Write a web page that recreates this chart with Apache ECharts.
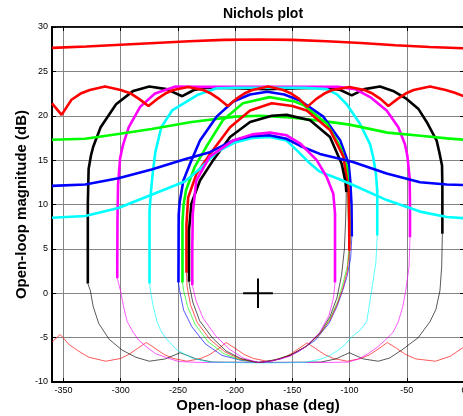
<!DOCTYPE html>
<html><head><meta charset="utf-8">
<script src="https://cdn.jsdelivr.net/npm/echarts@6/dist/echarts.min.js"></script>
<style>html,body{margin:0;padding:0;background:#fff}#c{width:463px;height:416px}</style>
</head><body><div id="c"></div>
<script>
// ---- tick labels ----
const xTicks = [-350,-300,-250,-200,-150,-100,-50,0];
const yTicks = [-10,-5,0,5,10,15,20,25,30];

// ---- wide (open) bounds ----
const redTop = [[-360,27.65],[-330,27.8],[-300,28.0],[-270,28.2],[-240,28.4],[-210,28.55],[-180,28.6],[-150,28.55],[-120,28.4],[-90,28.2],[-60,27.95],[-30,27.75],[0,27.6]];
const redScallop = [[-360,21.4],[-351.6,20.1],[-343,21.8],[-335,22.5],[-327,22.9],[-313.6,23.3],[-300,22.9],[-291,22.5],[-284,21.9],[-275.7,21.1],[-268,21.9],[-261,22.5],[-254,22.9],[-241,23.25],[-228,22.9],[-221,22.5],[-214,21.9],[-206.5,21.1],[-199,21.9],[-192,22.5],[-185,22.9],[-171,23.3],[-158,22.9],[-151,22.5],[-144,21.9],[-137,21.0],[-129,21.9],[-122,22.5],[-115,22.9],[-100,23.25],[-87,22.9],[-80,22.5],[-73,21.9],[-66.1,21.1],[-58,21.9],[-51,22.5],[-44,22.9],[-29.7,23.3],[-16,22.9],[-8,22.6],[0,22.2]];
const redBottom = [[-360,-5.5],[-352.8,-4.65],[-345,-5.8],[-337,-6.5],[-328,-7.2],[-313,-7.66],[-300,-7.35],[-293,-6.9],[-285,-6.2],[-277.6,-5.55],[-270,-6.2],[-262,-6.9],[-254,-7.35],[-242,-7.66],[-230,-7.35],[-222,-6.9],[-214,-6.2],[-207.9,-5.55],[-200,-6.2],[-192,-6.9],[-184,-7.35],[-172,-7.66],[-160,-7.35],[-152,-6.9],[-144,-6.2],[-137,-5.6],[-130,-6.2],[-122,-6.9],[-114,-7.35],[-102,-7.66],[-90,-7.35],[-82,-6.9],[-74,-6.2],[-67,-5.55],[-59,-6.2],[-51,-6.9],[-42,-7.4],[-25,-7.66],[-12,-7.1],[0,-6.05]];
const greenWide = [[-360,17.3],[-331,17.4],[-302,17.95],[-273,18.5],[-238,19.3],[-200,19.9],[-178,20.0],[-156,19.85],[-126,19.45],[-100,19.0],[-67,18.1],[-38,17.75],[-15,17.45],[0,17.3]];
const blueWide = [[-360,12.1],[-331,12.25],[-302,12.95],[-273,13.95],[-244,15.1],[-222,15.9],[-202,17.2],[-186,17.7],[-170,17.8],[-155,17.4],[-143,16.6],[-126,15.7],[-97,14.8],[-67.6,13.5],[-38.4,12.5],[-15,12.25],[0,12.2]];
const cyanWide = [[-360,8.5],[-331,8.7],[-302,9.6],[-273,11.1],[-244,12.6],[-231,14.0],[-216,15.9],[-200,17.0],[-185,17.5],[-170,17.6],[-155,17.2],[-146,16.1],[-136,14.8],[-126,13.7],[-110,12.9],[-97,12.2],[-67.5,10.5],[-38.4,9.2],[-15,8.6],[0,8.45]];

// ---- outer loops: upper (thick) and lower (thin) parts ----
const blackOuterUp = [[-328.7,1.1],[-328.7,10],[-328,14],[-326,15.5],[-324,16.5],[-317.5,18.7],[-304,21.3],[-289,22.8],[-275,23.3],[-260,23.0],[-246.2,22.2],[-236,22.9],[-224,23.15],[-200,23.1],[-172,23.0],[-145,23.1],[-122,23.15],[-108,22.9],[-98.1,22.3],[-87,23.0],[-73.4,23.3],[-62,22.8],[-50.1,21.9],[-40,20.8],[-32.6,19.3],[-23.9,17.2],[-21.6,15.9],[-19.2,14.4],[-18.9,12],[-18.9,6.7]];
const blackOuterLow = [[-18.9,6.7],[-19.5,3],[-21,0.3],[-24.5,-1.8],[-29.7,-3.2],[-40,-5.0],[-54.4,-6.4],[-65,-7.3],[-74.9,-7.66],[-88,-7.4],[-100.2,-6.7],[-112,-7.4],[-125,-7.75],[-174,-7.8],[-220,-7.75],[-234,-7.4],[-248,-6.7],[-261,-7.4],[-275,-7.66],[-287,-7.2],[-298.8,-6.4],[-310,-5.2],[-319.2,-3.4],[-324,-1.5],[-326.5,0.3],[-328.7,1.1]];
const magentaOuterUp = [[-303,1.7],[-302.8,8],[-302.3,12.2],[-300.5,15.2],[-298,16.7],[-293,18.7],[-283,21.0],[-270,22.5],[-252,23.3],[-230,23.25],[-200,23.25],[-174,23.25],[-140,23.25],[-110,23.25],[-95,23.0],[-82,22.1],[-67.6,20.6],[-57.4,18.7],[-51.6,16.8],[-49.5,15.5],[-47.5,13],[-47.2,10],[-47.2,6.3]];
const magentaOuterLow = [[-47.2,6.3],[-48,3],[-50.9,0.3],[-53.5,-1.5],[-57.4,-3.2],[-62,-4.4],[-69,-5.3],[-76,-6.1],[-83.6,-6.8],[-92,-7.4],[-101,-7.75],[-120,-7.8],[-174,-7.8],[-230,-7.8],[-249,-7.7],[-259,-7.3],[-269.6,-6.8],[-277,-6.1],[-284.1,-5.3],[-289,-4.4],[-294.3,-3.2],[-297.5,-1.5],[-300.2,0.3],[-303,1.7]];
const cyanOuterUp = [[-274.8,1.1],[-274.8,9.2],[-273.5,11.5],[-272,13.5],[-269.7,15.9],[-264.5,18.7],[-255,20.6],[-243.5,21.5],[-232,22.4],[-216,23.1],[-200,23.15],[-174,23.15],[-140,23.15],[-120,23.0],[-111,22.4],[-102.5,21.3],[-90.9,19.1],[-82.1,16.8],[-79.3,15.3],[-77,13.5],[-75.8,11.5],[-75.8,6.5]];
const cyanOuterLow = [[-75.8,6.5],[-77,3.5],[-80.7,0.3],[-83,-1.6],[-85,-3.2],[-91,-4.2],[-98.1,-4.9],[-104,-5.8],[-109.8,-6.4],[-117,-7.0],[-124.3,-7.4],[-139,-7.8],[-174,-7.85],[-210,-7.8],[-223,-7.75],[-237.6,-7.3],[-250.7,-6.4],[-256,-5.7],[-260.9,-5.0],[-265,-4.2],[-268.2,-3.2],[-271.5,-1.5],[-274,0.3],[-274.8,1.1]];

// ---- inner loops ----
const blueInnerUp = [[-249.5,1.2],[-249.3,8.8],[-248.5,10.2],[-245.2,12.7],[-239.4,14.6],[-230.7,17.2],[-216.2,19.9],[-201.6,21.6],[-187,22.4],[-172,22.7],[-157,22.4],[-143.3,21.7],[-122.9,19.9],[-108.1,17.2],[-100.8,14.6],[-99.4,12.7],[-98.3,10],[-98.0,6.4]];
const blueInnerLow = [[-98,6.4],[-99,4],[-102,2],[-106,0.3],[-111,-1.5],[-118,-3.4],[-130,-5.3],[-145,-6.6],[-160,-7.4],[-178,-7.8],[-195,-7.55],[-211.5,-7.0],[-226,-5.7],[-237.7,-3.8],[-245,-1.9],[-248.5,0.3],[-249.5,1.2]];
const greenInnerUp = [[-246,1.2],[-246,8],[-245,10],[-242.9,11.6],[-235.4,14.2],[-225.2,16.5],[-210.7,19.5],[-193.2,21.4],[-170,22.1],[-148,21.6],[-140.3,21.2],[-119.9,19.1],[-108.1,16.5],[-102.3,14.2],[-100.9,11.6],[-100.3,8],[-100.2,5.5]];
const greenInnerLow = [[-100.2,5.5],[-102,3],[-106,1],[-110,-0.8],[-116,-2.6],[-124,-4.3],[-136,-5.8],[-150,-6.9],[-165,-7.5],[-180,-7.8],[-197,-7.45],[-210,-6.8],[-224,-5.4],[-235,-3.5],[-241.5,-1.5],[-245,0.3],[-246,1.2]];
const redInnerUp = [[-242.5,2.3],[-242.5,7.8],[-241,10.8],[-233.6,13.5],[-221.9,15.7],[-204.4,18.7],[-186.9,20.6],[-168,21.4],[-150,21.1],[-137.4,20.6],[-117.1,18.4],[-105.4,15.4],[-100.9,11.6],[-100.3,8],[-100.2,4.8]];
const redInnerLow = [[-100.2,4.8],[-102,2.5],[-106,0.5],[-111,-1.3],[-117,-3],[-126,-4.6],[-138,-6],[-152,-7],[-167,-7.6],[-180,-7.8],[-196,-7.4],[-209,-6.6],[-222,-5.2],[-233,-3.3],[-239,-1.3],[-242,0.8],[-242.5,2.3]];
const blackInnerUp = [[-240.3,1.3],[-240.3,7.1],[-238.2,10.1],[-230.7,12.7],[-219.1,15.0],[-204.4,17.6],[-186.9,19.3],[-168,20.0],[-155,20.1],[-134.5,19.5],[-117.1,17.6],[-106.9,14.6],[-103.5,12.5],[-102.8,11.4]];
const blackInnerLow = [[-102.8,11.4],[-103.5,8],[-104.5,5],[-107,2],[-111,-0.5],[-117,-2.6],[-126,-4.5],[-138,-6],[-152,-7],[-167,-7.6],[-180,-7.8],[-195,-7.35],[-208,-6.5],[-220,-5.0],[-231,-3.1],[-237,-1.0],[-239.5,0.6],[-240.3,1.3]];
const magentaInnerUp = [[-237.4,0.9],[-237.4,5.2],[-237,9.0],[-233.9,12.7],[-222.2,15.4],[-201.8,17.2],[-185,17.9],[-169.5,18.1],[-155,17.8],[-143.3,16.9],[-128.7,15.0],[-120,13.1],[-114.2,11.2],[-112.7,9.0],[-112.7,1.2]];
const magentaInnerLow = [[-112.7,1.2],[-114,-0.5],[-118,-2.5],[-126,-4.4],[-138,-6],[-152,-7.1],[-167,-7.6],[-180,-7.8],[-193,-7.3],[-205,-6.3],[-217,-4.8],[-228,-2.8],[-234,-0.9],[-237.4,0.9]];

// ---- critical point marker ----
const crossH = [[-193,0],[-167,0]];
const crossV = [[-180,-1.65],[-180,1.65]];

const FONT = 'Liberation Sans, Arial, sans-serif';
const RED='#ff0000', GREEN='#00ff00', BLUE='#0000ff', CYAN='#00ffff', MAG='#ff00ff', BLK='#000000';

function thick(d, c){ return {type:'line', data:d, showSymbol:false, silent:true, animation:false, lineStyle:{color:c, width:2.6}, z:3}; }
function thin(d, c){ return {type:'line', data:d, showSymbol:false, silent:true, animation:false, lineStyle:{color:c, width:1, opacity:0.65}, z:2}; }

const series = [
  thin(redBottom, RED), thin(blackOuterLow, BLK), thin(magentaOuterLow, MAG), thin(cyanOuterLow, CYAN),
  thin(blueInnerLow, BLUE), thin(greenInnerLow, GREEN), thin(redInnerLow, RED), thin(blackInnerLow, BLK), thin(magentaInnerLow, MAG),
  thick(blackOuterUp, BLK), thick(magentaOuterUp, MAG), thick(cyanOuterUp, CYAN), thick(greenWide, GREEN),
  thick(blueInnerUp, BLUE), thick(greenInnerUp, GREEN), thick(redInnerUp, RED), thick(blackInnerUp, BLK),
  thick(cyanWide, CYAN), thick(blueWide, BLUE), thick(magentaInnerUp, MAG),
  thick(redTop, RED), thick(redScallop, RED),
  {type:'line', data:crossH, showSymbol:false, silent:true, animation:false, lineStyle:{color:BLK, width:2}, z:4},
  {type:'line', data:crossV, showSymbol:false, silent:true, animation:false, lineStyle:{color:BLK, width:2}, z:4}
];

const chart = echarts.init(document.getElementById('c'), null, {renderer:'canvas'});
chart.setOption({
  animation:false,
  backgroundColor:'#ffffff',
  title:{text:'Nichols plot', left:258, top:2, textAlign:'center', textStyle:{fontSize:14, fontWeight:'bold', color:'#000', fontFamily:FONT}},
  grid:{left:52, right:-1, top:27, bottom:34, show:true, borderColor:'#000', borderWidth:1.5, backgroundColor:'transparent', outerBoundsMode:'none', containLabel:false},
  xAxis:[
    {type:'value', min:-360, max:0, position:'bottom',
     axisLine:{show:true, onZero:false, lineStyle:{color:'#000', width:2}},
     axisTick:{show:true, inside:true, length:4, customValues:xTicks, lineStyle:{color:'#000'}},
     axisLabel:{customValues:xTicks, color:'#000', fontSize:9, margin:4, fontFamily:FONT, hideOverlap:false},
     splitLine:{show:true, lineStyle:{color:'#858585', width:1}},
     name:'Open-loop phase (deg)', nameLocation:'middle', nameGap:16, nameMoveOverlap:false,
     nameTextStyle:{fontWeight:'bold', fontSize:15, color:'#000', fontFamily:FONT}},
    {type:'value', min:-360, max:0, position:'top',
     axisLine:{show:true, onZero:false, lineStyle:{color:'#000', width:1.5}},
     axisTick:{show:true, inside:true, length:4, customValues:xTicks, lineStyle:{color:'#000'}},
     axisLabel:{show:false}, splitLine:{show:false}}
  ],
  yAxis:[
    {type:'value', min:-10, max:30, interval:5, position:'left',
     axisLine:{show:true, onZero:false, lineStyle:{color:'#000', width:2}},
     axisTick:{show:true, inside:true, length:4, lineStyle:{color:'#000'}},
     axisLabel:{color:'#000', fontSize:9, margin:4, fontFamily:FONT},
     splitLine:{show:true, lineStyle:{color:'#858585', width:1}},
     name:'Open-loop magnitude (dB)', nameLocation:'middle', nameGap:23, nameMoveOverlap:false,
     nameTextStyle:{fontWeight:'bold', fontSize:15, color:'#000', fontFamily:FONT}},
    {type:'value', min:-10, max:30, interval:5, position:'right',
     axisLine:{show:true, onZero:false, lineStyle:{color:'#000', width:1.5}},
     axisTick:{show:true, inside:true, length:4, lineStyle:{color:'#000'}},
     axisLabel:{show:false}, splitLine:{show:false}}
  ],
  series: series
});
</script></body></html>
